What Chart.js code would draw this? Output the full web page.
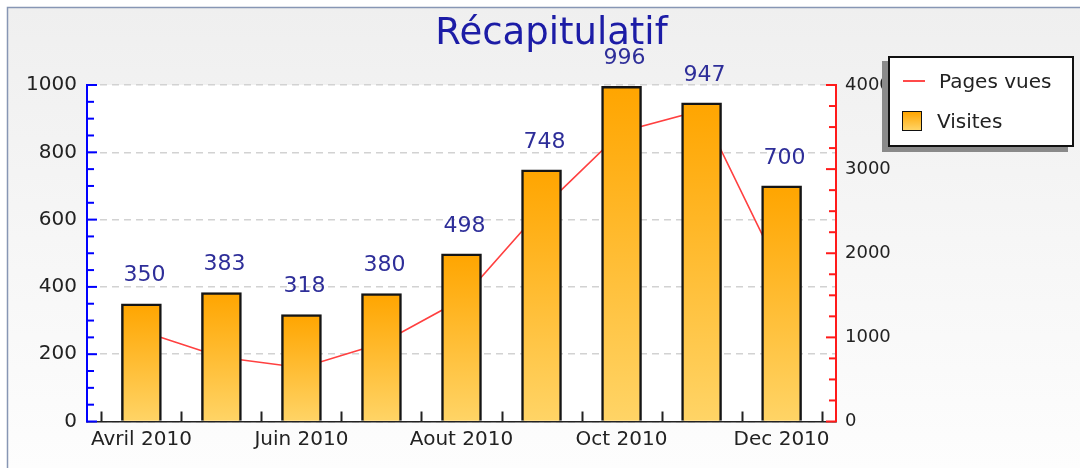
<!DOCTYPE html>
<html lang="fr">

<head>
    <meta charset="UTF-8">
    <title>Récapitulatif</title>
    <script src="https://cdn.jsdelivr.net/npm/chart.js@4.4.1/dist/chart.umd.min.js"></script>
    <style>
        body { margin: 0; background: #fff; }
        .wrap { position: relative; width: 1080px; height: 468px; overflow: hidden; }
        #legende {
            position: absolute; left: 888px; top: 56px; width: 182px; height: 87px;
            border: 2px solid #111; background: #fff; box-shadow: -6px 5px 0 #8a8a8a;
            font: 20px "DejaVu Sans", sans-serif; color: #222;
        }
        #legende .item { position: absolute; left: 0; height: 40px; display: flex; align-items: center; }
        #legende .trait { width: 22px; height: 2px; background: #ff4a4a; margin: 0 14px 0 13px; }
        #legende .carre { width: 18px; height: 18px; border: 1.5px solid #111; margin: 0 15px 0 12px;
            background: linear-gradient(#ffa500, #ffd466); }
    </style>
</head>

<body>
    <div class="wrap">
        <canvas id="recap"></canvas>
        <div id="legende"></div>
    </div>

    <script>
        // Données
        const mois = ['Avril 2010', 'Mai 2010', 'Juin 2010', 'Juillet 2010', 'Aout 2010',
            'Sept 2010', 'Oct 2010', 'Nov 2010', 'Dec 2010'];
        const visites = [350, 383, 318, 380, 498, 748, 996, 947, 700];
        const pagesVues = [1075, 764, 639, 931, 1450, 2525, 3445, 3700, 1750];
        const moisAffiches = [0, 2, 4, 6, 8];   // index des mois étiquetés
        const ticksVisites = { max: 1000, pas: 200, mineur: 50 };
        const ticksPages = { max: 4000, pas: 1000, mineur: 250 };

        Chart.defaults.font.family = '"DejaVu Sans", sans-serif';

        // fond gris dégradé + cadre + zone de tracé blanche
        const fond = {
            id: 'fond',
            beforeDraw(chart) {
                const { ctx, width, height, chartArea: a } = chart;
                ctx.save();
                ctx.fillStyle = '#fff';
                ctx.fillRect(0, 0, width, height);
                const g = ctx.createLinearGradient(0, 8, 0, height);
                g.addColorStop(0, '#efefef');
                g.addColorStop(1, '#fdfdfd');
                ctx.fillStyle = g;
                ctx.fillRect(8, 8, width - 8, height - 8);
                ctx.strokeStyle = '#8796b4';
                ctx.lineWidth = 1.5;
                ctx.beginPath();
                ctx.moveTo(7.5, height);
                ctx.lineTo(7.5, 7.5);
                ctx.lineTo(width, 7.5);
                ctx.stroke();
                ctx.fillStyle = '#fff';
                ctx.fillRect(a.left, a.top, a.right - a.left, a.bottom - a.top);
                ctx.restore();
            }
        };

        // graduations tournées vers l'intérieur
        const graduations = {
            id: 'graduations',
            afterDraw(chart) {
                const { ctx, chartArea: a, scales } = chart;
                const trait = (x1, y1, x2, y2) => { ctx.beginPath(); ctx.moveTo(x1, y1); ctx.lineTo(x2, y2); ctx.stroke(); };
                ctx.save();
                ctx.lineWidth = 2;
                ctx.strokeStyle = '#222';
                for (let v = -0.5; v <= mois.length - 0.5; v++) {
                    const px = Math.round(scales.x.getPixelForValue(v)) + 0.5;
                    trait(px, a.bottom, px, a.bottom - 10);
                }
                ctx.strokeStyle = '#0000ff';
                for (let v = 0; v <= ticksVisites.max; v += ticksVisites.mineur) {
                    const py = scales.y.getPixelForValue(v);
                    trait(a.left, py, a.left + (v % ticksVisites.pas === 0 ? 10 : 7), py);
                }
                ctx.strokeStyle = '#ff1a1a';
                for (let v = 0; v <= ticksPages.max; v += ticksPages.mineur) {
                    const py = scales.y1.getPixelForValue(v);
                    trait(a.right, py, a.right - (v % ticksPages.pas === 0 ? 10 : 7), py);
                }
                ctx.restore();
            }
        };

        // valeurs au-dessus des barres
        const valeurs = {
            id: 'valeurs',
            afterDatasetsDraw(chart) {
                const { ctx } = chart;
                const meta = chart.getDatasetMeta(0);
                ctx.save();
                ctx.font = '22px "DejaVu Sans", sans-serif';
                ctx.fillStyle = '#2e2e99';
                ctx.textAlign = 'center';
                ctx.textBaseline = 'middle';
                meta.data.forEach((bar, i) => {
                    ctx.fillText(visites[i], bar.x + 3, bar.y - 28);
                });
                ctx.restore();
            }
        };

        function degradeBarre(c) {
            const chart = c.chart;
            const a = chart.chartArea;
            if (!a || !c.parsed) return '#ffa500';
            const haut = chart.scales.y.getPixelForValue(c.parsed.y);
            const g = chart.ctx.createLinearGradient(0, haut, 0, a.bottom);
            g.addColorStop(0, '#ffa500');
            g.addColorStop(1, '#ffd466');
            return g;
        }

        const chart = new Chart(document.getElementById('recap'), {
            type: 'bar',
            data: {
                datasets: [{
                    label: 'Visites',
                    data: visites.map((v, i) => ({ x: i, y: v })),
                    backgroundColor: degradeBarre,
                    borderColor: '#151515',
                    borderWidth: 2.5,
                    borderSkipped: 'start',
                    barThickness: 40,
                    yAxisID: 'y',
                    order: 0
                }, {
                    type: 'line',
                    label: 'Pages vues',
                    data: pagesVues.map((v, i) => ({ x: i, y: v })),
                    borderColor: '#ff4040',
                    borderWidth: 1.6,
                    pointRadius: 0,
                    tension: 0,
                    yAxisID: 'y1',
                    order: 1
                }]
            },
            options: {
                responsive: true,
                maintainAspectRatio: false,
                animation: false,
                layout: { padding: { left: 23 } },
                plugins: {
                    legend: { display: false },
                    tooltip: { enabled: false },
                    title: {
                        display: true,
                        text: 'Récapitulatif',
                        color: '#1c1ca6',
                        font: { size: 37, weight: 'normal' },
                        padding: { top: 12, bottom: 28.6 }
                    }
                },
                scales: {
                    x: {
                        type: 'linear',
                        offset: false,
                        min: -0.5 - 0.18,
                        max: mois.length - 0.5 + 0.18,
                        grid: { display: false, drawTicks: false, offset: false },
                        border: { color: '#222', width: 1.5 },
                        ticks: { font: { size: 20 }, color: '#222', padding: 6, callback: v => mois[v] },
                        afterBuildTicks: s => { s.ticks = moisAffiches.map(v => ({ value: v })); },
                        afterFit: s => { s.height = 46.5; }
                    },
                    y: {
                        position: 'left',
                        min: 0,
                        max: ticksVisites.max,
                        grid: { color: '#d2d2d2', lineWidth: 1.5, drawTicks: false },
                        border: { color: '#0000ff', width: 2, dash: [7, 5] },
                        ticks: { stepSize: ticksVisites.pas, font: { size: 20 }, color: '#222', padding: 10, callback: v => String(v) },
                        afterFit: s => { s.width = 64; }
                    },
                    y1: {
                        position: 'right',
                        min: 0,
                        max: ticksPages.max,
                        grid: { drawOnChartArea: false, drawTicks: false },
                        border: { color: '#ff1a1a', width: 2 },
                        ticks: { stepSize: ticksPages.pas, font: { size: 18 }, color: '#222', padding: 9, callback: v => String(v) },
                        afterFit: s => { s.width = 244; }
                    }
                }
            },
            plugins: [fond, graduations, valeurs]
        });

        // légende HTML
        const legende = document.getElementById('legende');
        [{ nom: 'Pages vues', cls: 'trait' }, { nom: 'Visites', cls: 'carre' }].forEach((it, i) => {
            const ligne = document.createElement('div');
            ligne.className = 'item';
            ligne.style.top = (3 + i * 40) + 'px';
            ligne.innerHTML = `<span class="${it.cls}"></span><span>${it.nom}</span>`;
            legende.appendChild(ligne);
        });
    </script>
</body>

</html>
